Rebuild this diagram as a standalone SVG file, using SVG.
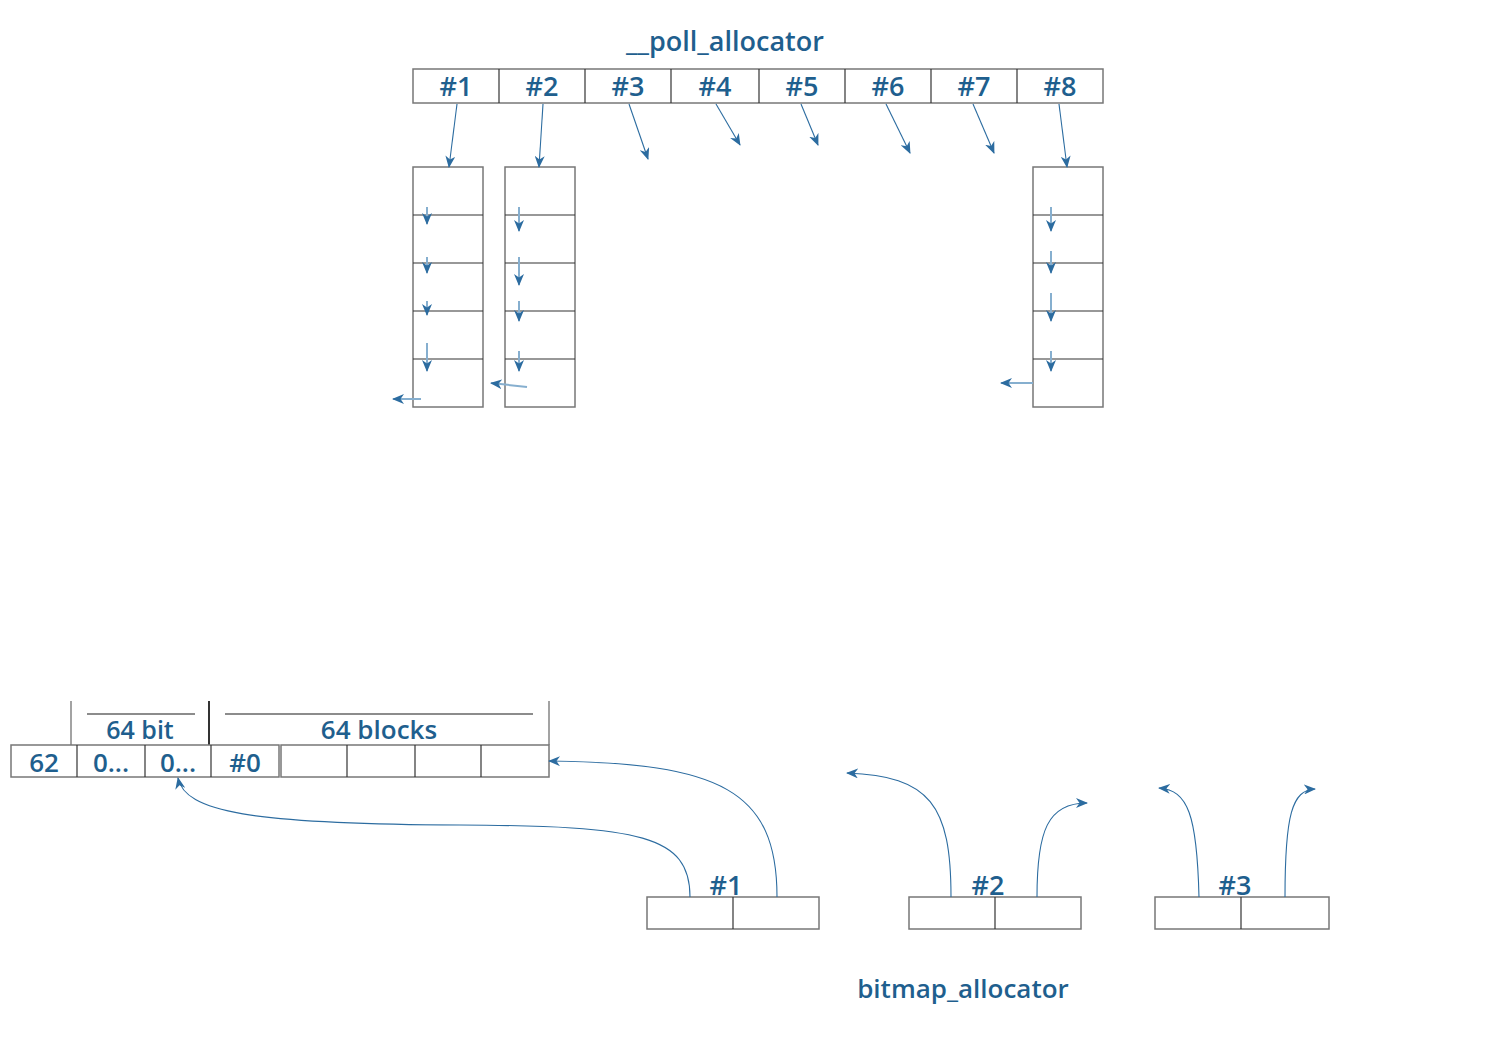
<svg xmlns="http://www.w3.org/2000/svg" width="1512" height="1062" viewBox="0 0 1512 1062">
<style>
.box{fill:#fff;stroke:#777;stroke-width:1.5}
.div{stroke:#333;stroke-width:1.2}
.lbl{font-family:"Open Sans","Liberation Sans",Arial,sans-serif;font-weight:600;fill:#1f5f8e;text-anchor:middle}
.cell{font-size:27px}
.title{font-size:26px}
.conn{fill:none;stroke:#2c6ca0;stroke-width:1.1}
.inner{fill:none;stroke:#86afcf;stroke-width:2}
</style>
<defs>
<marker id="ah" viewBox="0 0 12 10" refX="11" refY="5" markerWidth="12" markerHeight="10" markerUnits="userSpaceOnUse" orient="auto">
<path d="M0,0 L12,5 L0,10 L3.5,5 Z" fill="#2c6ca0"/>
</marker>
</defs>
<rect width="1512" height="1062" fill="#fff"/>

<g id="poll_allocator">
<text class="lbl title" x="725" y="51" style="font-size:27px">__poll_allocator</text>
<rect class="box" x="413" y="69" width="690" height="34"/>
<line class="div" x1="499" y1="69" x2="499" y2="103"/>
<line class="div" x1="585" y1="69" x2="585" y2="103"/>
<line class="div" x1="671" y1="69" x2="671" y2="103"/>
<line class="div" x1="759" y1="69" x2="759" y2="103"/>
<line class="div" x1="845" y1="69" x2="845" y2="103"/>
<line class="div" x1="931" y1="69" x2="931" y2="103"/>
<line class="div" x1="1017" y1="69" x2="1017" y2="103"/>
<text class="lbl cell" x="456" y="96">#1</text>
<text class="lbl cell" x="542" y="96">#2</text>
<text class="lbl cell" x="628" y="96">#3</text>
<text class="lbl cell" x="715" y="96">#4</text>
<text class="lbl cell" x="802" y="96">#5</text>
<text class="lbl cell" x="888" y="96">#6</text>
<text class="lbl cell" x="974" y="96">#7</text>
<text class="lbl cell" x="1060" y="96">#8</text>
</g>

<g id="list1">
<rect class="box" x="413" y="167" width="70" height="240"/>
<line class="div" x1="413" y1="215" x2="483" y2="215"/>
<line class="div" x1="413" y1="263" x2="483" y2="263"/>
<line class="div" x1="413" y1="311" x2="483" y2="311"/>
<line class="div" x1="413" y1="359" x2="483" y2="359"/>
</g>
<g id="list2">
<rect class="box" x="505" y="167" width="70" height="240"/>
<line class="div" x1="505" y1="215" x2="575" y2="215"/>
<line class="div" x1="505" y1="263" x2="575" y2="263"/>
<line class="div" x1="505" y1="311" x2="575" y2="311"/>
<line class="div" x1="505" y1="359" x2="575" y2="359"/>
</g>
<g id="list8">
<rect class="box" x="1033" y="167" width="70" height="240"/>
<line class="div" x1="1033" y1="215" x2="1103" y2="215"/>
<line class="div" x1="1033" y1="263" x2="1103" y2="263"/>
<line class="div" x1="1033" y1="311" x2="1103" y2="311"/>
<line class="div" x1="1033" y1="359" x2="1103" y2="359"/>
</g>

<g id="block_table">
<line x1="71" y1="701" x2="71" y2="745" stroke="#666" stroke-width="1.2"/>
<line x1="209" y1="701" x2="209" y2="745" stroke="#333" stroke-width="2"/>
<line x1="549" y1="701" x2="549" y2="745" stroke="#666" stroke-width="1.2"/>
<line x1="87" y1="714" x2="195" y2="714" stroke="#666" stroke-width="1.5"/>
<line x1="225" y1="714" x2="533" y2="714" stroke="#666" stroke-width="1.5"/>
<text class="lbl title" x="140" y="739" style="font-size:25px">64 bit</text>
<text class="lbl title" x="379" y="739">64 blocks</text>
<rect class="box" x="11" y="745" width="268" height="32"/>
<line class="div" x1="77" y1="745" x2="77" y2="777"/>
<line class="div" x1="145" y1="745" x2="145" y2="777"/>
<line class="div" x1="211" y1="745" x2="211" y2="777"/>
<rect class="box" x="281" y="745" width="268" height="32"/>
<line class="div" x1="347" y1="745" x2="347" y2="777"/>
<line class="div" x1="415" y1="745" x2="415" y2="777"/>
<line class="div" x1="481" y1="745" x2="481" y2="777"/>
<text class="lbl cell" x="44" y="772" style="font-size:26px">62</text>
<text class="lbl cell" x="111" y="772" style="font-size:26px">0...</text>
<text class="lbl cell" x="178" y="772" style="font-size:26px">0...</text>
<text class="lbl cell" x="245" y="772" style="font-size:26px">#0</text>
</g>

<g id="bitmap1">
<rect class="box" x="647" y="897" width="172" height="32"/>
<line class="div" x1="733" y1="897" x2="733" y2="929"/>
<text class="lbl cell" x="726" y="895">#1</text>
</g>
<g id="bitmap2">
<rect class="box" x="909" y="897" width="172" height="32"/>
<line class="div" x1="995" y1="897" x2="995" y2="929"/>
<text class="lbl cell" x="988" y="895">#2</text>
</g>
<g id="bitmap3">
<rect class="box" x="1155" y="897" width="174" height="32"/>
<line class="div" x1="1241" y1="897" x2="1241" y2="929"/>
<text class="lbl cell" x="1235" y="895">#3</text>
</g>
<g id="bitmap_label">
<text class="lbl title" x="963" y="998">bitmap_allocator</text>
</g>

<g id="connectors">
<line class="conn" x1="457" y1="104" x2="449" y2="167" marker-end="url(#ah)"/>
<line class="conn" x1="543" y1="104" x2="539" y2="167" marker-end="url(#ah)"/>
<line class="conn" x1="629" y1="104" x2="648" y2="159" marker-end="url(#ah)"/>
<line class="conn" x1="716" y1="104" x2="740" y2="145" marker-end="url(#ah)"/>
<line class="conn" x1="801" y1="104" x2="818" y2="145" marker-end="url(#ah)"/>
<line class="conn" x1="886" y1="104" x2="910" y2="153" marker-end="url(#ah)"/>
<line class="conn" x1="973" y1="104" x2="994" y2="153" marker-end="url(#ah)"/>
<line class="conn" x1="1059" y1="104" x2="1067" y2="167" marker-end="url(#ah)"/>

<line class="inner" x1="427" y1="207" x2="427" y2="224" marker-end="url(#ah)"/>
<line class="inner" x1="427" y1="257" x2="427" y2="273" marker-end="url(#ah)"/>
<line class="inner" x1="427" y1="301" x2="427" y2="315" marker-end="url(#ah)"/>
<line class="inner" x1="427" y1="343" x2="427" y2="371" marker-end="url(#ah)"/>
<line class="inner" x1="421" y1="399" x2="393" y2="399" marker-end="url(#ah)"/>

<line class="inner" x1="519" y1="207" x2="519" y2="231" marker-end="url(#ah)"/>
<line class="inner" x1="519" y1="257" x2="519" y2="285" marker-end="url(#ah)"/>
<line class="inner" x1="519" y1="301" x2="519" y2="321" marker-end="url(#ah)"/>
<line class="inner" x1="519" y1="351" x2="519" y2="371" marker-end="url(#ah)"/>
<line class="inner" x1="527" y1="387" x2="491" y2="383" marker-end="url(#ah)"/>

<line class="inner" x1="1051" y1="207" x2="1051" y2="231" marker-end="url(#ah)"/>
<line class="inner" x1="1051" y1="251" x2="1051" y2="273" marker-end="url(#ah)"/>
<line class="inner" x1="1051" y1="293" x2="1051" y2="321" marker-end="url(#ah)"/>
<line class="inner" x1="1051" y1="351" x2="1051" y2="371" marker-end="url(#ah)"/>
<line class="inner" x1="1033" y1="383" x2="1001" y2="383" marker-end="url(#ah)"/>

<path class="conn" d="M690,897 C690,835 640,826 460,825 C250,824 185,812 178,778" marker-end="url(#ah)"/>
<path class="conn" d="M777,897 C777,790 720,763 549,761" marker-end="url(#ah)"/>
<path class="conn" d="M951,897 C951,805 930,776 847,773" marker-end="url(#ah)"/>
<path class="conn" d="M1037,897 C1037,830 1048,803 1087,803" marker-end="url(#ah)"/>
<path class="conn" d="M1199,897 C1197,815 1188,790 1159,788" marker-end="url(#ah)"/>
<path class="conn" d="M1285,897 C1285,815 1292,790 1315,789" marker-end="url(#ah)"/>
</g>
</svg>
